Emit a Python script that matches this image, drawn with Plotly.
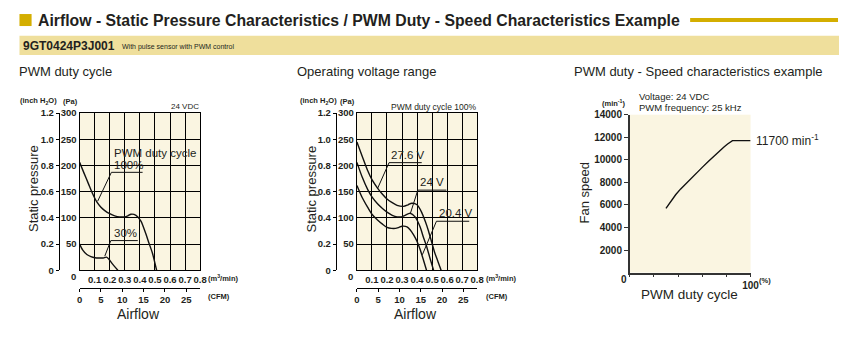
import plotly.graph_objects as go

W, H = 848, 344
CFM_PER_M3 = 35.3147

# ---------------- data ----------------
# Chart 1: PWM duty cycle (airflow m3/min, static pressure Pa)
pwm100_flow = [0, 0.03, 0.059, 0.085, 0.113, 0.14, 0.167, 0.2, 0.233, 0.265, 0.298, 0.32, 0.341, 0.374, 0.407, 0.439, 0.46, 0.483, 0.511]
pwm100_pa = [206, 185, 165, 147, 131, 121, 114, 108, 104, 102, 102, 104, 107, 105, 94, 70, 52, 33, 0]
pwm30_flow = [0, 0.02, 0.048, 0.075, 0.102, 0.13, 0.157, 0.178, 0.195, 0.21, 0.23, 0.254]
pwm30_pa = [50, 39, 30, 26, 24, 23.5, 23.5, 25, 21, 15, 8, 0]

# Chart 2: Operating voltage range
v276_flow = [0, 0.04, 0.072, 0.1, 0.137, 0.17, 0.2, 0.235, 0.267, 0.31, 0.34, 0.365, 0.4, 0.43, 0.455, 0.474, 0.495, 0.517, 0.54, 0.56]
v276_pa = [245, 214, 190, 173, 157, 145, 136, 129, 124, 122, 125, 128, 125, 111, 93, 77, 56, 34, 16, 0]
v24_flow = [0, 0.035, 0.072, 0.1, 0.137, 0.17, 0.2, 0.235, 0.267, 0.295, 0.32, 0.354, 0.387, 0.42, 0.44, 0.463, 0.485, 0.51]
v24_pa = [206, 178, 154, 140, 127, 118, 111, 105, 102, 102, 105, 109, 102, 83, 65, 46, 24, 0]
v204_flow = [0, 0.035, 0.072, 0.1, 0.137, 0.17, 0.2, 0.23, 0.257, 0.28, 0.3, 0.333, 0.355, 0.376, 0.4, 0.42, 0.44, 0.463]
v204_pa = [162, 139, 120, 107, 96, 88, 82, 80, 80, 82, 84, 83, 77, 68, 55, 40, 22, 0]

# Chart 3: PWM duty - speed
duty_pct = [30, 34, 38, 42, 46, 50, 55, 60, 65, 70, 74, 78, 81, 83, 85, 100]
speed_rpm = [5700, 6330, 6900, 7400, 7850, 8280, 8800, 9330, 9860, 10380, 10780, 11140, 11400, 11570, 11700, 11700]

# tick labels
flow_ticks = [0.1, 0.2, 0.3, 0.4, 0.5, 0.6, 0.7, 0.8]
cfm_ticks = [0, 5, 10, 15, 20, 25]
pa_ticks = [50, 100, 150, 200, 250, 300]
inch_ticks = [0, 0.2, 0.4, 0.6, 0.8, 1.0, 1.2]
inch_labels = ["0", "0.2", "0.4", "0.6", "0.8", "1.0", "1.2"]
speed_ticks = [2000, 4000, 6000, 8000, 10000, 12000, 14000]
duty_ticks = [0, 20, 40, 60, 80, 100]
duty_labels = ["", "", "", "", "", "100"]

# ---------------- styling helpers ----------------
def px(x):
    return x / W

def py(y):
    return 1 - y / H

INK = "#231f20"
GOLD = "#d4ae00"
BAND = "#efdf9c"
CREAM = "#faf5e1"
SANS = "Liberation Sans, Arial, sans-serif"
TICKFONT = dict(family=SANS, size=9.5, color=INK, weight="bold")
TICKFONT3 = dict(family=SANS, size=10, color=INK, weight="bold")

fig = go.Figure()

def curve(x, y, xa, ya, shape="spline"):
    fig.add_trace(go.Scatter(
        x=x, y=y, xaxis=xa, yaxis=ya, mode="lines",
        line=dict(color="#111111", width=1.4, shape=shape, smoothing=0.7 if shape == "spline" else None),
        hoverinfo="skip", showlegend=False))

def axis_holder(x, y, xa, ya):
    # draws nothing; only registers a secondary (unit-conversion) axis
    fig.add_trace(go.Scatter(x=x, y=y, xaxis=xa, yaxis=ya, mode="none",
                             hoverinfo="skip", showlegend=False))

curve(pwm100_flow, pwm100_pa, "x", "y")
curve(pwm30_flow, pwm30_pa, "x", "y")
curve(v276_flow, v276_pa, "x3", "y3")
curve(v24_flow, v24_pa, "x3", "y3")
curve(v204_flow, v204_pa, "x3", "y3")
curve(duty_pct, speed_rpm, "x5", "y5", shape="linear")

axis_holder(cfm_ticks, [0] * len(cfm_ticks), "x2", "y")
axis_holder([0] * len(inch_ticks), inch_ticks, "x", "y2")
axis_holder(cfm_ticks, [0] * len(cfm_ticks), "x4", "y3")
axis_holder([0] * len(inch_ticks), inch_ticks, "x3", "y4")

ydom = [py(273), py(110.7)]

def grid_x(dom, anchor):
    return dict(domain=dom, range=[0, 0.8], anchor=anchor, tickvals=flow_ticks,
                ticktext=[f"{v:.1f}" for v in flow_ticks], showgrid=True, gridcolor="#000",
                gridwidth=1.4, showline=True, linecolor="#000", linewidth=1.4, mirror=True,
                ticks="", zeroline=False, tickfont=TICKFONT, tickangle=0, fixedrange=True)

def grid_y(anchor):
    return dict(domain=ydom, range=[0, 300], anchor=anchor, tickvals=pa_ticks,
                ticktext=[str(v) for v in pa_ticks], showgrid=True, gridcolor="#000",
                gridwidth=1.4, showline=True, linecolor="#000", linewidth=1.4, mirror=True,
                ticks="", zeroline=False, tickfont=TICKFONT, fixedrange=True)

def cfm_axis(over):
    return dict(overlaying=over, anchor="free", position=py(291), side="bottom",
                range=[0, 0.8 * CFM_PER_M3], tickvals=cfm_ticks, ticktext=[str(v) for v in cfm_ticks],
                showline=True, linecolor="#000", linewidth=1.2, ticks="outside", ticklen=3,
                tickcolor="#000", showgrid=False, zeroline=False, tickfont=TICKFONT, tickangle=0,
                fixedrange=True)

def inch_axis(over, xpos):
    return dict(overlaying=over, anchor="free", position=px(xpos), side="left",
                range=[0, 1.2], tickvals=inch_ticks, ticktext=inch_labels,
                showline=True, linecolor="#000", linewidth=1.2, ticks="outside", ticklen=3,
                tickcolor="#000", showgrid=False, zeroline=False, tickfont=TICKFONT, fixedrange=True)

layout = dict(
    width=W, height=H, margin=dict(l=0, r=0, t=0, b=0),
    paper_bgcolor="white", plot_bgcolor=CREAM, showlegend=False,
    xaxis=grid_x([px(77.7), px(200)], "y"),
    yaxis=grid_y("x"),
    xaxis2=cfm_axis("x"),
    yaxis2=inch_axis("y", 56.7),
    xaxis3=grid_x([px(359), px(481)], "y3"),
    yaxis3=grid_y("x3"),
    xaxis4=cfm_axis("x3"),
    yaxis4=inch_axis("y3", 337.7),
    xaxis5=dict(domain=[px(635.7), px(758.3)], range=[0, 100], anchor="y5", tickvals=duty_ticks,
                ticktext=duty_labels, showgrid=False, showline=True, linecolor="#333", linewidth=1.5,
                ticks="outside", ticklen=3, tickcolor="#333", zeroline=False,
                tickfont=TICKFONT3, tickangle=0, fixedrange=True),
    yaxis5=dict(domain=[py(275.4), py(112.3)], range=[0, 14000], anchor="x5", tickvals=speed_ticks,
                ticktext=[str(v) for v in speed_ticks], showgrid=False, showline=True, linecolor="#333",
                linewidth=1.5, ticks="outside", ticklen=4, tickcolor="#333", zeroline=False,
                tickfont=TICKFONT3, fixedrange=True),
)
fig.update_layout(**layout)

# ---------------- header shapes ----------------
shapes = [
    dict(type="rect", xref="paper", yref="paper", x0=px(16.7), x1=px(29), y0=py(20.7), y1=py(8.3),
         fillcolor=GOLD, line=dict(width=0)),
    dict(type="rect", xref="paper", yref="paper", x0=px(697), x1=px(847), y0=py(16.5), y1=py(12.5),
         fillcolor=GOLD, line=dict(width=0)),
    dict(type="rect", xref="paper", yref="paper", x0=px(16.7), x1=1, y0=py(50.7), y1=py(30.7),
         fillcolor=BAND, line=dict(width=0), layer="below"),
]

# leader lines (data coordinates)
def leader(xa, ya, x0, y0, x1, y1):
    shapes.append(dict(type="line", xref=xa, yref=ya, x0=x0, y0=y0, x1=x1, y1=y1,
                       line=dict(color="#111", width=1)))

# chart 1
leader("x", "y", 0.211, 187, 0.418, 187)
leader("x", "y", 0.211, 187, 0.12, 132)
leader("x", "y", 0.207, 56.7, 0.386, 56.7)
leader("x", "y", 0.207, 56.7, 0.167, 27)
# chart 2
leader("x3", "y3", 0.214, 205.5, 0.431, 205.5)
leader("x3", "y3", 0.214, 205.5, 0.137, 156)
leader("x3", "y3", 0.405, 153, 0.595, 153)
leader("x3", "y3", 0.405, 153, 0.355, 108)
leader("x3", "y3", 0.529, 93.6, 0.747, 93.6)
leader("x3", "y3", 0.529, 93.6, 0.435, 29.5)
fig.update_layout(shapes=shapes)

# ---------------- texts ----------------
ann = []

def text(x, y, s, size=11, family=SANS, anchor="left", color=INK, angle=0, yanchor="middle"):
    ann.append(dict(xref="paper", yref="paper", x=px(x), y=py(y), text=s, showarrow=False,
                    xanchor=anchor, yanchor=yanchor, textangle=angle,
                    font=dict(family=family, size=size, color=color), borderpad=0))

def dtext(xa, ya, x, y, s, size=11.5):
    ann.append(dict(xref=xa, yref=ya, x=x, y=y, text=s, showarrow=False, xanchor="left",
                    yanchor="bottom", font=dict(family=SANS, size=size, color=INK), borderpad=0))

text(34, 14.5, "<b>Airflow - Static Pressure Characteristics / PWM Duty - Speed Characteristics Example</b>",
     size=15.8)
text(19, 41.5, "<b>9GT0424P3J001</b>", size=12)
text(120, 42, "With pulse sensor with PWM control", size=7)

text(15, 68, "PWM duty cycle", size=13)
text(297, 68, "Operating voltage range", size=13)
text(578, 68, "PWM duty - Speed characteristics example", size=13)

# chart 1 labels
text(16, 98.5, "<b>(inch H<sub>2</sub>O)</b>", size=7.5)
text(77, 98.5, "<b>(Pa)</b>", size=7.5, anchor="right")
text(199.5, 104, "24 VDC", size=8, anchor="right")
text(75, 279, "<b>0</b>", size=9.5, anchor="right")
text(31.5, 189, "Static pressure", size=13, angle=-90, anchor="center")
text(207, 281, "<b>(m<sup>3</sup>/min)</b>", size=7.5)
text(207, 300, "<b>(CFM)</b>", size=7.5)
text(137, 318, "Airflow", size=14, anchor="center")
dtext("x", "y", 0.222, 210, "PWM duty cycle")
dtext("x", "y", 0.222, 188, "100%")
dtext("x", "y", 0.222, 58.5, "30%")

# chart 2 labels
text(300, 98.5, "<b>(inch H<sub>2</sub>O)</b>", size=7.5)
text(358, 98.5, "<b>(Pa)</b>", size=7.5, anchor="right")
text(481, 104, "PWM duty cycle 100%", size=8.5, anchor="right")
text(356, 279, "<b>0</b>", size=9.5, anchor="right")
text(313, 189, "Static pressure", size=13, angle=-90, anchor="center")
text(489, 281, "<b>(m<sup>3</sup>/min)</b>", size=7.5)
text(489, 300, "<b>(CFM)</b>", size=7.5)
text(418, 318, "Airflow", size=14, anchor="center")
dtext("x3", "y3", 0.222, 207, "27.6 V")
dtext("x3", "y3", 0.416, 155, "24 V")
dtext("x3", "y3", 0.540, 95.5, "20.4 V")

# chart 3 labels
text(633, 100.5, "<b>(min<sup>-1</sup>)</b>", size=7.5, anchor="right")
text(644, 93, "Voltage: 24 VDC", size=9.5)
text(644, 104.5, "PWM frequency: 25 kHz", size=9.5)
text(630, 283, "<b>0</b>", size=10, anchor="center")
text(766, 284, "<b>(%)</b>", size=7.5)
text(763, 138.5, "11700 min<sup>-1</sup>", size=12)
text(590, 193, "Fan speed", size=13, angle=-90, anchor="center")
text(696, 298, "PWM duty cycle", size=13.5, anchor="center")

fig.update_layout(annotations=ann)
fig.write_html("out.html")
